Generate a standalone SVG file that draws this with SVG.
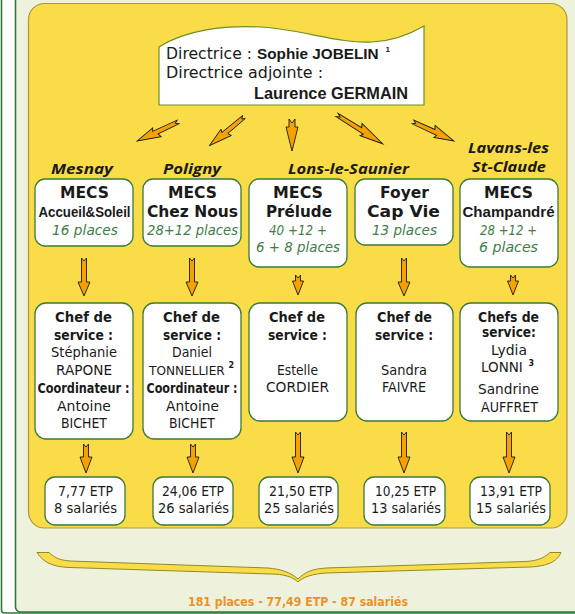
<svg xmlns="http://www.w3.org/2000/svg" width="575" height="614" viewBox="0 0 575 614">
<style>
text{font-family:'DejaVu Sans','Liberation Sans',sans-serif;fill:#1a1a1a}
.b{font-weight:bold}
.lb{font-family:'Liberation Sans',Arial,sans-serif;font-weight:bold}
.dir{font-size:15.5px}
.dirb{font-size:16.5px}
.city{font-family:'Open Sans','DejaVu Sans',sans-serif;font-weight:bold;font-style:italic;font-size:15px}
.t1{font-size:16.5px;font-weight:bold}
.pl{font-size:14.5px;font-style:italic;fill:#3e7d4a}
.ch{font-size:13.5px}
.etp{font-size:14px}
.sup{font-size:8px;font-weight:bold}
.tot{font-size:12.5px;font-weight:bold;fill:#e8922a}
.box{fill:#ffffff;stroke:#3a7a3a;stroke-width:1.3}
.arr{fill:#f5a100;stroke:#1a1a1a;stroke-width:0.9;stroke-linejoin:miter}
</style>
<defs>
<path id="zz" d="M0,-2 L23,-2.4 L21.5,-6.2 L45,0 L25.5,5.2 L27,2.2 L0,2 L3,0 Z"/>
</defs>
<rect x="0" y="0" width="575" height="614" fill="#ffffff"/>
<rect x="1.5" y="-20" width="600" height="633" rx="3" fill="#ffffff" stroke="#2f7a3a" stroke-width="1.6"/>
<rect x="15.5" y="-20" width="600" height="632" rx="5" fill="#eef2dc" stroke="#2f7a3a" stroke-width="1.6"/>
<rect id="panel" x="28.5" y="3.5" width="538.5" height="524.5" rx="16" fill="#f9dc48" stroke="#a89b3c" stroke-width="1.2"/>

<g id="director">
<path d="M159,105 V47 C185,30 225,25 260,27 C300,29 340,44 372,42 C395,41 412,33 424,26 V105 Z" fill="#ffffff" stroke="#6b8e23" stroke-width="1.2"/>
<text class="dir" x="166" y="59" textLength="86" lengthAdjust="spacingAndGlyphs">Directrice :</text>
<text class="lb" font-size="15.3" x="257" y="59">Sophie JOBELIN<tspan class="sup" x="385.5" y="52">1</tspan></text>
<text class="dir" x="166" y="78" textLength="157" lengthAdjust="spacingAndGlyphs">Directrice adjointe :</text>
<text class="dirb lb" x="254" y="99" textLength="154" lengthAdjust="spacingAndGlyphs">Laurence GERMAIN</text>
</g>

<g id="cities" text-anchor="middle">
<text class="city" x="82" y="174" textLength="62" lengthAdjust="spacingAndGlyphs">Mesnay</text>
<text class="city" x="192" y="174" textLength="58" lengthAdjust="spacingAndGlyphs">Poligny</text>
<text class="city" x="348.5" y="174" textLength="121" lengthAdjust="spacingAndGlyphs">Lons-le-Saunier</text>
<text class="city" x="508.5" y="153" textLength="81" lengthAdjust="spacingAndGlyphs">Lavans-les</text>
<text class="city" x="509" y="172" textLength="74" lengthAdjust="spacingAndGlyphs">St-Claude</text>
</g>

<g id="mecs1" text-anchor="middle">
<rect class="box" x="35" y="179" width="98" height="67" rx="10"/>
<text class="t1" x="84.5" y="198" textLength="49" lengthAdjust="spacingAndGlyphs">MECS</text>
<text class="lb" font-size="14" x="84.5" y="217" textLength="92" lengthAdjust="spacingAndGlyphs">Accueil&amp;Soleil</text>
<text class="pl" x="85" y="235" textLength="66" lengthAdjust="spacingAndGlyphs">16 places</text>
</g>
<g id="mecs2" text-anchor="middle">
<rect class="box" x="143" y="179" width="98" height="67" rx="10"/>
<text class="t1" x="192.5" y="198" textLength="49" lengthAdjust="spacingAndGlyphs">MECS</text>
<text class="t1" x="192.5" y="217" textLength="91" lengthAdjust="spacingAndGlyphs">Chez Nous</text>
<text class="pl" x="192.5" y="235" textLength="91" lengthAdjust="spacingAndGlyphs">28+12 places</text>
</g>
<g id="mecs3" text-anchor="middle">
<rect class="box" x="249" y="179" width="98" height="88" rx="10"/>
<text class="t1" x="298" y="198" textLength="50" lengthAdjust="spacingAndGlyphs">MECS</text>
<text class="t1" x="299" y="217" textLength="66" lengthAdjust="spacingAndGlyphs">Prélude</text>
<text class="pl" x="298" y="235" textLength="58" lengthAdjust="spacingAndGlyphs">40 +12 +</text>
<text class="pl" x="298" y="252" textLength="84" lengthAdjust="spacingAndGlyphs">6 + 8 places</text>
</g>
<g id="foyer" text-anchor="middle">
<rect class="box" x="355" y="179" width="98" height="66" rx="10"/>
<text class="t1" x="404.5" y="198" textLength="49" lengthAdjust="spacingAndGlyphs">Foyer</text>
<text class="t1" x="403.5" y="217" textLength="73" lengthAdjust="spacingAndGlyphs">Cap Vie</text>
<text class="pl" x="404.5" y="235" textLength="65" lengthAdjust="spacingAndGlyphs">13 places</text>
</g>
<g id="mecs5" text-anchor="middle">
<rect class="box" x="460" y="179" width="98" height="88" rx="10"/>
<text class="t1" x="508.5" y="198" textLength="49" lengthAdjust="spacingAndGlyphs">MECS</text>
<text class="lb" font-size="15" x="508.5" y="217" textLength="92" lengthAdjust="spacingAndGlyphs">Champandré</text>
<text class="pl" x="508.5" y="235" textLength="57" lengthAdjust="spacingAndGlyphs">28 +12 +</text>
<text class="pl" x="508.5" y="252" textLength="59" lengthAdjust="spacingAndGlyphs">6 places</text>
</g>

<g id="chef1" text-anchor="middle">
<rect class="box" x="35" y="303" width="98" height="136" rx="11"/>
<text class="ch b" x="83.5" y="322" textLength="57" lengthAdjust="spacingAndGlyphs">Chef de</text>
<text class="ch b" x="83.5" y="340" textLength="59" lengthAdjust="spacingAndGlyphs">service :</text>
<text class="ch" x="84" y="357" textLength="66" lengthAdjust="spacingAndGlyphs">Stéphanie</text>
<text class="ch" x="84" y="375" textLength="56" lengthAdjust="spacingAndGlyphs">RAPONE</text>
<text class="ch b" x="83.5" y="393" textLength="92" lengthAdjust="spacingAndGlyphs">Coordinateur :</text>
<text class="ch" x="84" y="411" textLength="54" lengthAdjust="spacingAndGlyphs">Antoine</text>
<text class="ch" x="84" y="428" textLength="46" lengthAdjust="spacingAndGlyphs">BICHET</text>
</g>
<g id="chef2" text-anchor="middle">
<rect class="box" x="143" y="303" width="98" height="136" rx="11"/>
<text class="ch b" x="191.5" y="322" textLength="57" lengthAdjust="spacingAndGlyphs">Chef de</text>
<text class="ch b" x="192" y="340" textLength="58" lengthAdjust="spacingAndGlyphs">service :</text>
<text class="ch" x="192" y="357" textLength="40" lengthAdjust="spacingAndGlyphs">Daniel</text>
<text font-family="'Liberation Sans',Arial,sans-serif" font-size="12.1" x="149" y="375" text-anchor="start">TONNELLIER<tspan class="sup" x="228.5" y="368">2</tspan></text>
<text class="ch b" x="192" y="393" textLength="91" lengthAdjust="spacingAndGlyphs">Coordinateur :</text>
<text class="ch" x="192.5" y="411" textLength="53" lengthAdjust="spacingAndGlyphs">Antoine</text>
<text class="ch" x="192" y="428" textLength="46" lengthAdjust="spacingAndGlyphs">BICHET</text>
</g>
<g id="chef3" text-anchor="middle">
<rect class="box" x="249" y="303" width="98" height="118" rx="11"/>
<text class="ch b" x="297" y="322" textLength="56" lengthAdjust="spacingAndGlyphs">Chef de</text>
<text class="ch b" x="297.5" y="340" textLength="59" lengthAdjust="spacingAndGlyphs">service :</text>
<text class="ch" x="297.5" y="375" textLength="41" lengthAdjust="spacingAndGlyphs">Estelle</text>
<text class="ch" x="297.5" y="392" textLength="63" lengthAdjust="spacingAndGlyphs">CORDIER</text>
</g>
<g id="chef4" text-anchor="middle">
<rect class="box" x="356" y="303" width="97" height="118" rx="11"/>
<text class="ch b" x="404.5" y="322" textLength="55" lengthAdjust="spacingAndGlyphs">Chef de</text>
<text class="ch b" x="404" y="340" textLength="58" lengthAdjust="spacingAndGlyphs">service :</text>
<text class="ch" x="404" y="375" textLength="46" lengthAdjust="spacingAndGlyphs">Sandra</text>
<text class="ch" x="404" y="392" textLength="44" lengthAdjust="spacingAndGlyphs">FAIVRE</text>
</g>
<g id="chef5" text-anchor="middle">
<rect class="box" x="460" y="303" width="98" height="118" rx="11"/>
<text class="ch b" x="508.5" y="322" textLength="61" lengthAdjust="spacingAndGlyphs">Chefs de</text>
<text class="ch b" x="509" y="337" textLength="54" lengthAdjust="spacingAndGlyphs">service:</text>
<text class="ch" x="509" y="355" textLength="36" lengthAdjust="spacingAndGlyphs">Lydia</text>
<text class="ch" x="481" y="372" text-anchor="start">LONNI<tspan class="sup" x="528.5" y="366">3</tspan></text>
<text class="ch" x="508.5" y="394" textLength="61" lengthAdjust="spacingAndGlyphs">Sandrine</text>
<text class="ch" x="509.5" y="412" textLength="57" lengthAdjust="spacingAndGlyphs">AUFFRET</text>
</g>

<g id="etp1" text-anchor="middle">
<rect class="box" x="45" y="477" width="80" height="48" rx="10"/>
<text class="etp" x="85.5" y="496" textLength="55" lengthAdjust="spacingAndGlyphs">7,77 ETP</text>
<text class="etp" x="85.5" y="513" textLength="63" lengthAdjust="spacingAndGlyphs">8 salariés</text>
</g>
<g id="etp2" text-anchor="middle">
<rect class="box" x="153" y="477" width="80" height="48" rx="10"/>
<text class="etp" x="193" y="496" textLength="62" lengthAdjust="spacingAndGlyphs">24,06 ETP</text>
<text class="etp" x="193.5" y="513" textLength="71" lengthAdjust="spacingAndGlyphs">26 salariés</text>
</g>
<g id="etp3" text-anchor="middle">
<rect class="box" x="259" y="477" width="79" height="48" rx="10"/>
<text class="etp" x="300.5" y="496" textLength="63" lengthAdjust="spacingAndGlyphs">21,50 ETP</text>
<text class="etp" x="299" y="513" textLength="70" lengthAdjust="spacingAndGlyphs">25 salariés</text>
</g>
<g id="etp4" text-anchor="middle">
<rect class="box" x="364" y="477" width="81" height="48" rx="10"/>
<text class="etp" x="405.5" y="496" textLength="61" lengthAdjust="spacingAndGlyphs">10,25 ETP</text>
<text class="etp" x="406" y="513" textLength="70" lengthAdjust="spacingAndGlyphs">13 salariés</text>
</g>
<g id="etp5" text-anchor="middle">
<rect class="box" x="470" y="477" width="80" height="48" rx="10"/>
<text class="etp" x="511" y="496" textLength="62" lengthAdjust="spacingAndGlyphs">13,91 ETP</text>
<text class="etp" x="511" y="513" textLength="70" lengthAdjust="spacingAndGlyphs">15 salariés</text>
</g>

<g id="connectors">
<use href="#zz" class="arr" transform="translate(178,122) rotate(155.1)"/>
<use href="#zz" class="arr" transform="translate(244,117) rotate(140.4)"/>
<use href="#zz" class="arr" transform="translate(337,115) rotate(32.2) scale(1.2,1)"/>
<use href="#zz" class="arr" transform="translate(413,122) rotate(24.9)"/>
<polygon class="arr" points="289,119 292,123 295,119 295,127 298,127 292,151 286,127 289,127"/>

<polygon class="arr" points="81.5,258 84,261 86.5,258 86.5,282 90,282 84,296 78,282 81.5,282"/>
<polygon class="arr" points="189.5,258 192,261 194.5,258 194.5,282 198,282 192,296 186,282 189.5,282"/>
<polygon class="arr" points="295.5,275 298,278 300.5,275 300.5,281 303.5,281 298,295 292.5,281 295.5,281"/>
<polygon class="arr" points="401.5,258 404,261 406.5,258 406.5,282 410,282 404,296 398,282 401.5,282"/>
<polygon class="arr" points="510.5,275 513,278 515.5,275 515.5,281 518.5,281 513,295 507.5,281 510.5,281"/>

<polygon class="arr" points="83.5,444 86,447 88.5,444 88.5,457 92,457 86,473 80,457 83.5,457"/>
<polygon class="arr" points="190.5,444 193,447 195.5,444 195.5,457 199,457 193,473 187,457 190.5,457"/>
<polygon class="arr" points="295.5,432 298,435 300.5,432 300.5,457 304,457 298,473 292,457 295.5,457"/>
<polygon class="arr" points="401.5,432 404,435 406.5,432 406.5,457 410,457 404,473 398,457 401.5,457"/>
<polygon class="arr" points="506.5,432 509,435 511.5,432 511.5,457 515,457 509,473 503,457 506.5,457"/>
</g>

<g id="total">
<path d="M37,552.5 L49,552.5 C53,556 57,560 70,561 L268,568 C280,569 290,572 298,579 C305,572 312,569 326,568 L525,561.5 C540,561 546,556 550,552.5 L561,552.5 C558,560 550,566 530,567 L326,573 C312,574 303,577 298,582 C293,577 284,574 270,574 L70,567.5 C52,567 43,562 37,552.5 Z" fill="#f9dc48" stroke="#8f8a2a" stroke-width="1"/>
<text class="tot" x="298" y="606" text-anchor="middle" textLength="220" lengthAdjust="spacingAndGlyphs">181 places - 77,49 ETP - 87 salariés</text>
</g>
</svg>
